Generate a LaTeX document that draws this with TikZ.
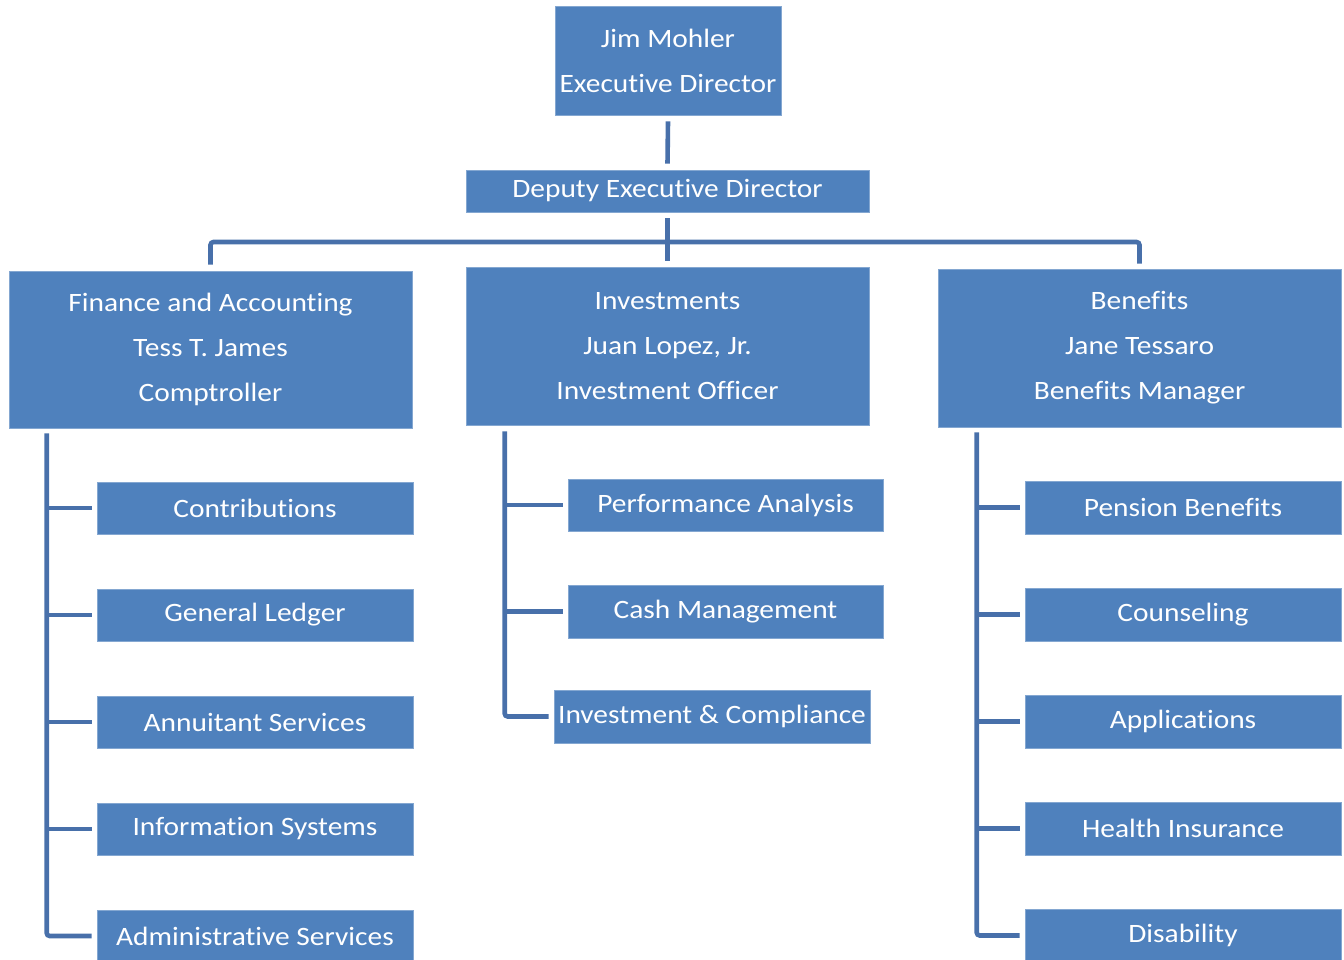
\documentclass[tikz,border=0pt]{standalone}
\usepackage{fontspec}
\setmainfont{Carlito}[FakeStretch=1.11, Ligatures={NoCommon}]
\begin{document}
\definecolor{boxblue}{HTML}{4F81BD}
\definecolor{linkblue}{RGB}{72,112,170}
\begin{tikzpicture}[x=1pt,y=-1pt,
  box/.style={fill=boxblue, draw=boxblue!70!white, line width=0.6pt, text=white,
    align=center, inner sep=0pt, font=\fontsize{26.5}{45}\selectfont},
  conn/.style={draw=linkblue, line width=4.6pt, rounded corners=3pt}]
\useasboundingbox (0,0) rectangle (1344,959);
% top levels
\node[box, minimum width=226, minimum height=109] (jim) at (668,60.5) {Jim Mohler\\Executive Director};
\node[box, minimum width=403, minimum height=42] (dep) at (667.5,191) {Deputy Executive Director};
% divisions
\node[box, minimum width=403, minimum height=157] (fin) at (210.5,349.5) {Finance and Accounting\\Tess T. James\\Comptroller};
\node[box, minimum width=403, minimum height=158] (inv) at (667.5,346) {Investments\\Juan Lopez, Jr.\\Investment Officer};
\node[box, minimum width=403, minimum height=158] (ben) at (1139.5,348) {Benefits\\Jane Tessaro\\Benefits Manager};
% finance units
\node[box, minimum width=316, minimum height=52] (con) at (255,508) {Contributions};
\node[box, minimum width=316, minimum height=52] (gl)  at (255,615) {General Ledger};
\node[box, minimum width=316, minimum height=52] (ann) at (255,722) {Annuitant Services};
\node[box, minimum width=316, minimum height=52] (its) at (255,829) {Information Systems};
\node[box, minimum width=316, minimum height=52] (adm) at (255,936) {Administrative Services};
% investment units
\node[box, minimum width=315, minimum height=52] (perf) at (725.5,505) {Performance Analysis};
\node[box, minimum width=315, minimum height=53] (cash) at (725.5,611.5) {Cash Management};
\node[box, minimum width=316, minimum height=53] (comp) at (712,716.5) {Investment \& Compliance};
% benefit units
\node[box, minimum width=316, minimum height=53] (pen) at (1183,507.5) {Pension Benefits};
\node[box, minimum width=316, minimum height=53] (cou) at (1183,614.5) {Counseling};
\node[box, minimum width=316, minimum height=53] (app) at (1183,721.5) {Applications};
\node[box, minimum width=316, minimum height=53] (hea) at (1183,828.5) {Health Insurance};
\node[box, minimum width=316, minimum height=53] (dis) at (1183,935.5) {Disability};
% executive links
\draw[conn] ([yshift=-6pt]jim.south) -- ([yshift=6pt]dep.north);
\draw[conn] ([yshift=-6pt]dep.south) -- ([yshift=6pt]inv.north);
\coordinate (bar) at (668,242);
\draw[conn] ([yshift=6pt]fin.north) |- (bar) -| ([yshift=5pt]ben.north);
% finance branch
\draw[conn] ([xshift=38pt,yshift=-5pt]fin.south west) |- ([xshift=-5pt]adm.west);
\foreach \n in {con,gl,ann,its}
  \draw[conn] ([xshift=-50pt]\n.west) -- ([xshift=-5pt]\n.west);
% investment branch
\draw[conn] ([xshift=39pt,yshift=-6pt]inv.south west) |- ([xshift=-5pt]comp.west);
\foreach \n in {perf,cash}
  \draw[conn] ([xshift=-63pt]\n.west) -- ([xshift=-5pt]\n.west);
% benefits branch
\draw[conn] ([xshift=39pt,yshift=-5pt]ben.south west) |- ([xshift=-5pt]dis.west);
\foreach \n in {pen,cou,app,hea}
  \draw[conn] ([xshift=-48pt]\n.west) -- ([xshift=-5pt]\n.west);
\end{tikzpicture}
\end{document}
